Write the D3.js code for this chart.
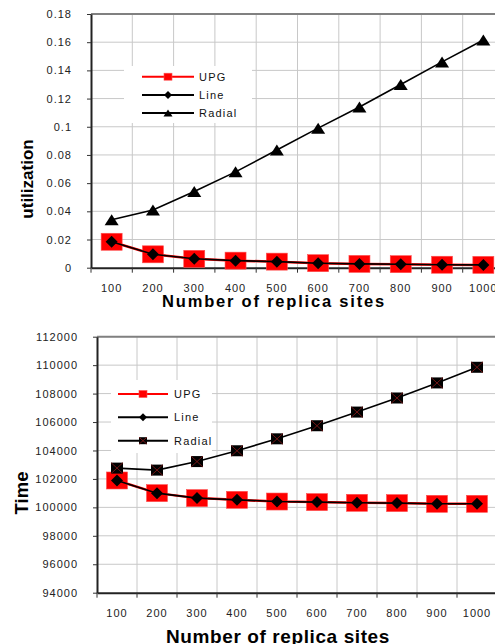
<!DOCTYPE html>
<html>
<head>
<meta charset="utf-8">
<script src="https://cdn.jsdelivr.net/npm/d3@7"></script>
<style>
  body { margin: 0; background: #fff; }
  svg { display: block; font-family: "Liberation Sans", Arial, sans-serif; }
</style>
</head>
<body>
<div id="chart"></div>
<script>
// Data

const sites = [100, 200, 300, 400, 500, 600, 700, 800, 900, 1000];

const utilUPG = [0.0184, 0.0095, 0.0063, 0.005, 0.0043, 0.0032, 0.0027, 0.0025, 0.0021, 0.002];
const utilLine = [0.0184, 0.0095, 0.0063, 0.005, 0.0043, 0.0032, 0.0027, 0.0025, 0.0021, 0.002];
const utilRadial = [0.034, 0.041, 0.054, 0.068, 0.0835, 0.099, 0.114, 0.130, 0.146, 0.1615];
const utilTicks = [0, 0.02, 0.04, 0.06, 0.08, 0.1, 0.12, 0.14, 0.16, 0.18];

const timeUPG = [101890, 101000, 100650, 100530, 100410, 100370, 100320, 100300, 100250, 100250];
const timeLine = [101890, 101000, 100650, 100530, 100410, 100370, 100320, 100300, 100250, 100250];
const timeRadial = [102760, 102620, 103220, 103980, 104820, 105740, 106700, 107690, 108750, 109850];
const timeTicks = [94000, 96000, 98000, 100000, 102000, 104000, 106000, 108000, 110000, 112000];

const seriesNames = ["UPG", "Line", "Radial"];

// Config

const width = 495;
const height = 644;

const svg = d3.select("#chart")
  .append("svg")
  .attr("width", width)
  .attr("height", height);

function trianglePath(cx, cy, w, h) {
  return `M${cx},${cy - h / 2}L${cx + w / 2},${cy + h / 2}L${cx - w / 2},${cy + h / 2}Z`;
}

function diamondPath(cx, cy, r) {
  return `M${cx},${cy - r}L${cx + r},${cy}L${cx},${cy + r}L${cx - r},${cy}Z`;
}

// Markers

function drawMarker(g, kind, cx, cy, big) {
  if (kind === "upg") {
    const w = big ? 21 : 8, h = big ? 17 : 7;
    g.append("rect")
      .attr("x", cx - w / 2).attr("y", cy - h / 2)
      .attr("width", w).attr("height", h)
      .attr("fill", "#ff0000")
      .attr("stroke", "#ff5050").attr("stroke-width", 0.6);
  } else if (kind === "diamond") {
    g.append("path")
      .attr("d", diamondPath(cx, cy, big ? 6 : 4))
      .attr("fill", "#000");
  } else if (kind === "triangle") {
    g.append("path")
      .attr("d", big ? trianglePath(cx, cy, 14, 11) : trianglePath(cx, cy, 9, 7))
      .attr("fill", "#000");
  } else if (kind === "xsquare") {
    const w = big ? 12 : 8, h = big ? 11 : 7;
    g.append("rect")
      .attr("x", cx - w / 2).attr("y", cy - h / 2)
      .attr("width", w).attr("height", h)
      .attr("fill", "#000");
    g.append("path")
      .attr("d", `M${cx - w / 2},${cy - h / 2}L${cx + w / 2},${cy + h / 2}M${cx + w / 2},${cy - h / 2}L${cx - w / 2},${cy + h / 2}`)
      .attr("stroke", "#8b1a1a").attr("stroke-width", 0.8);
  }
}

function drawChart(cfg) {
  const xScale = d3.scaleBand()
    .domain(sites)
    .range(cfg.xRange)
    .paddingInner(0)
    .paddingOuter(0);

  const yScale = d3.scaleLinear()
    .domain(cfg.yDomain)
    .range(cfg.yRange);

  const g = svg.append("g");
  const left = cfg.xRange[0];
  const right = cfg.xRange[1];
  const top = cfg.yRange[1];
  const bottom = cfg.yRange[0];

  // Gridlines

  g.append("g").selectAll("line")
    .data(cfg.ticks.slice(1))
    .join("line")
    .attr("x1", left).attr("x2", right)
    .attr("y1", d => yScale(d)).attr("y2", d => yScale(d))
    .attr("stroke", "#c8c8c8").attr("stroke-width", 1);

  g.append("g").selectAll("line")
    .data(sites.slice(1))
    .join("line")
    .attr("x1", d => xScale(d)).attr("x2", d => xScale(d))
    .attr("y1", top).attr("y2", bottom)
    .attr("stroke", "#c8c8c8").attr("stroke-width", 1);

  // Top border

  g.append("line")
    .attr("x1", left).attr("x2", right)
    .attr("y1", top).attr("y2", top)
    .attr("stroke", "#808080").attr("stroke-width", 2);

  // Axes

  const yAxis = d3.axisLeft(yScale)
    .tickValues(cfg.ticks)
    .tickSizeInner(4)
    .tickSizeOuter(0)
    .tickPadding(cfg.yPad)
    .tickFormat(cfg.format);

  const gy = g.append("g")
    .attr("transform", `translate(${left},0)`)
    .call(yAxis);

  gy.select(".domain").attr("stroke", "#222").attr("stroke-width", 2);
  gy.selectAll(".tick line").attr("stroke", "#333");
  gy.selectAll(".tick text")
    .attr("font-size", 11)
    .attr("fill", "#222")
    .style("letter-spacing", "1px")
    .attr("font-family", "'Liberation Sans', Arial, sans-serif");

  const xAxis = d3.axisBottom(xScale)
    .tickSizeInner(0)
    .tickSizeOuter(0)
    .tickPadding(17);

  const gx = g.append("g")
    .attr("transform", `translate(0,${bottom})`)
    .call(xAxis);

  gx.select(".domain").attr("stroke", "#222").attr("stroke-width", 2);
  gx.selectAll(".tick text")
    .attr("font-size", 11)
    .attr("fill", "#222")
    .style("letter-spacing", "1px")
    .attr("font-family", "'Liberation Sans', Arial, sans-serif");

  // tick marks between categories
  gx.append("g").selectAll("line")
    .data(sites)
    .join("line")
    .attr("x1", d => xScale(d)).attr("x2", d => xScale(d))
    .attr("y1", 0).attr("y2", 5)
    .attr("stroke", "#333");

  // Titles

  g.append("text")
    .attr("x", cfg.xTitle[0]).attr("y", cfg.xTitle[1])
    .attr("text-anchor", "middle")
    .attr("font-size", cfg.xTitleSize)
    .attr("font-weight", "bold")
    .style("letter-spacing", cfg.xTitleSpacing)
    .text("Number of replica sites");

  g.append("text")
    .attr("transform", `translate(${cfg.yTitle[0]},${cfg.yTitle[1]}) rotate(-90)`)
    .attr("text-anchor", "middle")
    .attr("font-size", cfg.yTitleSize)
    .attr("font-weight", "bold")
    .text(cfg.yLabel);

  // Series

  const cx = (d) => xScale(d) + xScale.bandwidth() / 2;

  const line = d3.line()
    .x(d => cx(d.site))
    .y(d => yScale(d.value));

  const toPoints = (arr) => sites.map((s, i) => ({ site: s, value: arr[i] }));

  const upgPts = toPoints(cfg.upg);
  const linePts = toPoints(cfg.line);
  const radialPts = toPoints(cfg.radial);

  const series = g.append("g");

  series.append("path")
    .datum(upgPts)
    .attr("d", line)
    .attr("fill", "none")
    .attr("stroke", "#ff0000")
    .attr("stroke-width", 2.5);

  upgPts.forEach(p => drawMarker(series, "upg", cx(p.site), yScale(p.value), true));

  series.append("path")
    .datum(linePts)
    .attr("d", line)
    .attr("fill", "none")
    .attr("stroke", "#000")
    .attr("stroke-width", 1.6);

  linePts.forEach(p => drawMarker(series, "diamond", cx(p.site), yScale(p.value), true));

  series.append("path")
    .datum(radialPts)
    .attr("d", line)
    .attr("fill", "none")
    .attr("stroke", "#000")
    .attr("stroke-width", 1.6);

  radialPts.forEach(p => drawMarker(series, cfg.radialMarker, cx(p.site), yScale(p.value), true));

  // Legend

  const lg = g.append("g");
  const lb = cfg.legendBox;
  lg.append("rect")
    .attr("x", lb[0]).attr("y", lb[1])
    .attr("width", lb[2]).attr("height", lb[3])
    .attr("fill", "#fff");

  const legendKinds = [
    { name: seriesNames[0], color: "#ff0000", marker: "upg" },
    { name: seriesNames[1], color: "#000", marker: "diamond" },
    { name: seriesNames[2], color: "#000", marker: cfg.radialMarker }
  ];

  legendKinds.forEach((k, i) => {
    const ly = cfg.legendY[i];
    const [x1, x2] = cfg.legendLine;
    lg.append("line")
      .attr("x1", x1).attr("x2", x2)
      .attr("y1", ly).attr("y2", ly)
      .attr("stroke", k.color).attr("stroke-width", 2);
    drawMarker(lg, k.marker, (x1 + x2) / 2, ly, false);
    lg.append("text")
      .attr("x", cfg.legendText).attr("y", ly)
      .attr("dy", "0.35em")
      .attr("font-size", 11)
      .attr("fill", "#111")
      .style("letter-spacing", "1.2px")
      .text(k.name);
  });
}

// Utilization chart

drawChart({
  xRange: [91, 504],
  yRange: [267.7, 14],
  yDomain: [0, 0.18],
  ticks: utilTicks,
  format: d => String(+d.toFixed(2)),
  yPad: 15,
  upg: utilUPG,
  line: utilLine,
  radial: utilRadial,
  radialMarker: "triangle",
  xTitle: [274, 307],
  xTitleSize: 16.5,
  xTitleSpacing: "1.8px",
  yTitle: [33, 179],
  yTitleSize: 17,
  yLabel: "utilization",
  legendBox: [124, 66, 128, 57],
  legendY: [76.7, 95, 113],
  legendLine: [142, 194],
  legendText: 199
});

// Time chart

drawChart({
  xRange: [97, 497],
  yRange: [592.7, 336.7],
  yDomain: [94000, 112000],
  ticks: timeTicks,
  format: d => String(d),
  yPad: 15,
  upg: timeUPG,
  line: timeLine,
  radial: timeRadial,
  radialMarker: "xsquare",
  xTitle: [278, 642.5],
  xTitleSize: 19,
  xTitleSpacing: "0.6px",
  yTitle: [28, 493],
  yTitleSize: 18.5,
  yLabel: "Time",
  legendBox: [111, 380, 101, 73],
  legendY: [394, 417.3, 440.7],
  legendLine: [118, 168],
  legendText: 174
});
</script>
</body>
</html>
